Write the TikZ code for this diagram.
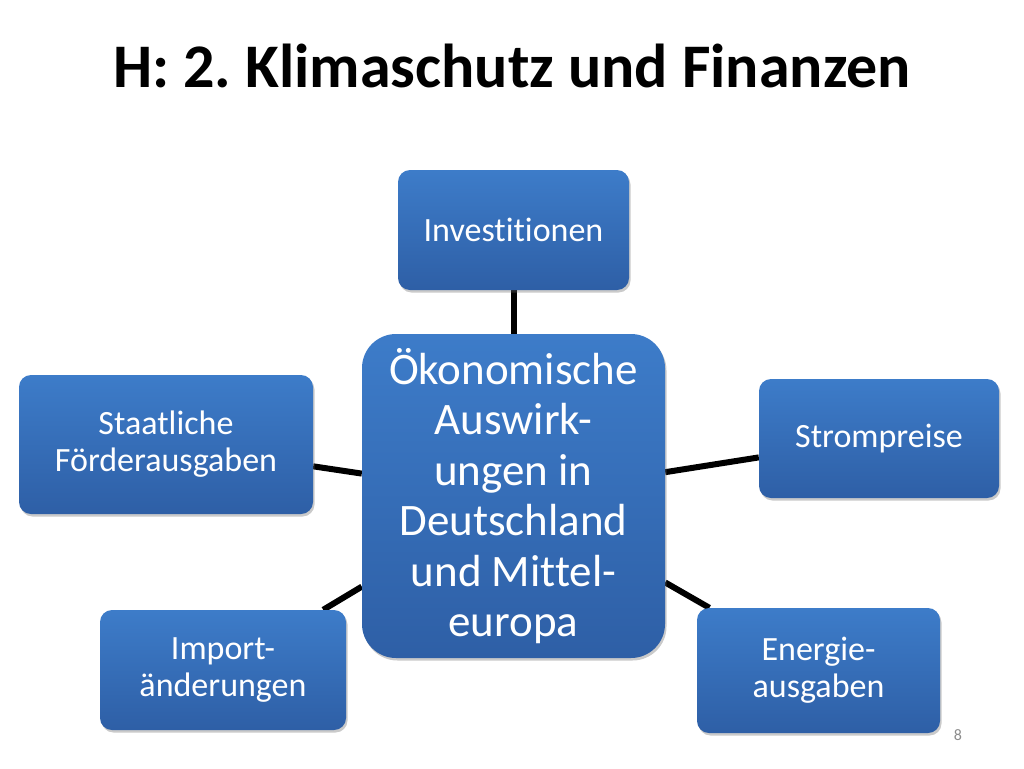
\documentclass[tikz,border=0pt]{standalone}
\usepackage{fontspec}
\setmainfont[Ligatures=NoCommon]{Carlito}
\usetikzlibrary{shadows,backgrounds}
\definecolor{boxtop}{HTML}{3D7CC9}
\definecolor{boxbot}{HTML}{2E5FA6}
\definecolor{pagenum}{HTML}{8C8C8C}
\tikzset{
  boxnode/.style={rounded corners=12pt, top color=boxtop, bottom color=boxbot,
    text=white, align=center, inner sep=0pt,
    drop shadow={shadow xshift=1.5pt, shadow yshift=-2.5pt, opacity=0.35, fill=black!60}},
  smalltext/.style={font=\fontsize{34}{37}\selectfont},
  bigtext/.style={font=\fontsize{45}{50.5}\selectfont},
  link/.style={line width=6pt, draw=black}
}
\begin{document}
\frenchspacing
\begin{tikzpicture}[x=1pt,y=-1pt]
\useasboundingbox (0,0) rectangle (1024,768);
\node[font=\bfseries\fontsize{62}{70}\selectfont] (title) at (512,66) {H: 2. Klimaschutz und Finanzen};
\node[boxnode, bigtext, rounded corners=34pt, minimum width=303pt, minimum height=324pt] (ctr) at (513.5,496) {Ökonomische\\Auswirk-\\ungen in\\Deutschland\\und Mittel-\\europa};
\node[boxnode, smalltext, minimum width=231pt, minimum height=120pt] (inv) at (513.5,230) {Investitionen};
\node[boxnode, smalltext, minimum width=240pt, minimum height=119pt] (strom) at (879,438.5) {Strompreise};
\node[boxnode, smalltext, minimum width=294pt, minimum height=139pt] (staat) at (166,444.5) {Staatliche\\Förderausgaben};
\node[boxnode, smalltext, minimum width=246pt, minimum height=120pt] (imp) at (223,670) {Import-\\änderungen};
\node[boxnode, smalltext, minimum width=243pt, minimum height=125pt] (energ) at (818.5,670.5) {Energie-\\ausgaben};
\node[text=pagenum, font=\fontsize{16}{18}\selectfont] (page) at (958,735) {8};
\begin{scope}[on background layer]
\draw[link] (inv.south) -- (ctr.north);
\draw[link] (staat) -- (ctr);
\draw[link] (strom) -- (ctr);
\draw[link] (imp) -- (ctr);
\draw[link] (energ) -- (ctr);
\end{scope}
\end{tikzpicture}
\end{document}
